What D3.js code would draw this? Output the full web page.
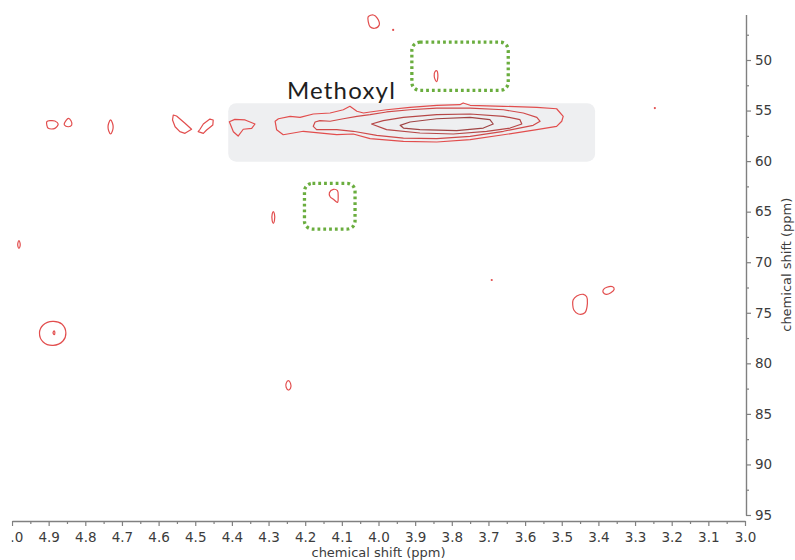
<!DOCTYPE html>
<html><head><meta charset="utf-8">
<script src="https://cdn.jsdelivr.net/npm/d3@7"></script>
<style>html,body{margin:0;padding:0;background:#fff;} svg{display:block}</style>
</head><body><svg id="c" width="795" height="560"></svg>
<script>
// ---- axes / ticks ----
const xDomain = [5.0, 3.0];
const yDomain = [45.5, 95.0];
const xTicks = [5.0,4.9,4.8,4.7,4.6,4.5,4.4,4.3,4.2,4.1,4.0,3.9,3.8,3.7,3.6,3.5,3.4,3.3,3.2,3.1,3.0];
const xMinorTicks = [4.95,4.85,4.75,4.65,4.55,4.45,4.35,4.25,4.15,4.05,3.95,3.85,3.75,3.65,3.55,3.45,3.35,3.25,3.15,3.05];
const yTicks = [50,55,60,65,70,75,80,85,90,95];
const yMinorTicks = [47.5,52.5,57.5,62.5,67.5,72.5,77.5,82.5,87.5,92.5];
const xTitle = "chemical shift (ppm)";
const yTitle = "chemical shift (ppm)";

// ---- annotations (ppm coordinates: x0, x1, y0, y1) ----
const methoxylLabel = "Methoxyl";
const methoxylLabelAt = [4.250, 53.81];
const methoxylBand = [4.410, 3.409, 54.28, 60.06];
const boxUpper = [3.909, 3.646, 48.24, 53.00];
const boxLower = [4.202, 4.064, 62.20, 66.72];

// ---- contour data (ppm 1H, ppm 13C) ----
const methoxylOuter = [[4.282,56.06],[4.273,55.81],[4.241,55.57],[4.214,55.67],[4.178,55.34],[4.132,55.24],[4.096,54.92],[4.078,54.58],[4.059,55.07],[4.041,55.24],[4.023,55.14],[3.978,54.92],[3.914,54.68],[3.841,54.48],[3.778,54.42],[3.769,54.25],[3.750,54.48],[3.659,54.58],[3.568,54.68],[3.514,54.82],[3.496,55.57],[3.500,56.06],[3.514,56.56],[3.568,56.89],[3.659,57.39],[3.750,57.88],[3.841,58.11],[3.932,58.04],[4.023,57.78],[4.069,57.32],[4.114,57.39],[4.205,57.05],[4.260,57.39],[4.278,56.89]];
const methoxylLevel2 = [[4.173,56.13],[4.160,56.00],[4.132,56.06],[4.096,55.81],[4.059,55.57],[4.023,55.41],[3.978,55.14],[3.914,54.92],[3.841,54.75],[3.750,54.75],[3.659,54.92],[3.605,55.24],[3.568,55.67],[3.559,56.06],[3.578,56.46],[3.659,57.05],[3.750,57.55],[3.841,57.78],[3.932,57.72],[4.005,57.45],[4.069,57.05],[4.114,56.89],[4.169,56.89],[4.178,56.56]];
const methoxylLevel3 = [[4.019,56.33],[3.987,56.00],[3.932,55.67],[3.841,55.41],[3.750,55.34],[3.659,55.57],[3.614,55.90],[3.609,56.33],[3.641,56.73],[3.705,57.05],[3.796,57.32],[3.887,57.22],[3.978,56.89]];
const methoxylCore = [[3.941,56.46],[3.914,56.13],[3.841,55.81],[3.750,55.67],[3.696,55.90],[3.687,56.33],[3.714,56.73],[3.787,56.99],[3.887,56.89],[3.932,56.73]];
const methoxylShoulder = [[4.407,56.10],[4.392,55.87],[4.364,55.93],[4.337,56.33],[4.346,56.76],[4.369,56.85],[4.383,57.52],[4.396,57.09]];

const peak490a = [[4.905,56.10],[4.896,56.00],[4.883,56.03],[4.874,56.33],[4.883,56.76],[4.901,56.76],[4.905,56.43]];
const peak485 = [[4.857,56.26],[4.846,55.77],[4.839,56.00],[4.837,56.43],[4.846,56.60],[4.857,56.43]];
const peak473 = [[4.731,55.93],[4.726,56.23],[4.724,56.63],[4.726,57.02],[4.731,57.32],[4.736,57.02],[4.738,56.63],[4.736,56.23]];
const peak454 = [[4.560,55.44],[4.551,55.54],[4.528,56.26],[4.510,56.85],[4.528,57.25],[4.542,57.09],[4.555,56.60],[4.562,55.93]];
const peak447 = [[4.487,56.85],[4.478,56.33],[4.460,55.84],[4.451,55.93],[4.452,56.43],[4.469,56.92],[4.478,57.25],[4.492,57.09]];
const peak401 = [[4.028,45.72],[4.014,45.55],[4.003,45.88],[3.998,46.54],[4.010,46.86],[4.023,46.71],[4.028,46.21]];
const peak384 = [[3.846,51.16],[3.841,51.06],[3.838,51.48],[3.841,52.15],[3.845,51.98],[3.848,51.58]];
const peak429 = [[4.287,65.00],[4.284,65.23],[4.284,65.92],[4.287,66.15],[4.290,65.92],[4.290,65.23]];
const peak412 = [[4.134,63.13],[4.123,62.79],[4.112,62.93],[4.110,63.52],[4.112,64.08],[4.123,63.78],[4.132,63.52]];
const peak498 = [[4.981,67.87],[4.978,68.10],[4.978,68.40],[4.981,68.63],[4.984,68.40],[4.984,68.10]];
const peak489 = [[4.889,75.85],[4.864,76.11],[4.853,77.00],[4.861,77.79],[4.888,78.22],[4.915,77.89],[4.925,77.00],[4.915,76.21]];
const peak489core = [[4.885,76.78],[4.883,76.97],[4.885,77.17],[4.888,76.97]];
const peak345 = [[3.469,73.74],[3.459,73.34],[3.441,73.18],[3.432,73.41],[3.430,74.07],[3.437,75.00],[3.455,75.12],[3.467,74.73],[3.470,74.23]];
const peak337 = [[3.387,72.75],[3.377,72.48],[3.361,72.42],[3.357,72.68],[3.366,73.02],[3.379,73.18],[3.387,72.98]];
const peak425 = [[4.252,81.98],[4.246,81.72],[4.240,81.98],[4.240,82.47],[4.246,82.64],[4.252,82.37]];
const pointPeaks = [[3.960,47.03],[3.691,71.76],[3.246,54.75]];

const contours = [
  {pts: methoxylOuter, level: 1, smooth: false},
  {pts: methoxylLevel2, level: 2, smooth: false},
  {pts: methoxylLevel3, level: 3, smooth: false},
  {pts: methoxylCore, level: 4, smooth: false},
  {pts: methoxylShoulder, level: 1, smooth: false},
  {pts: peak490a, level: 1, smooth: true},
  {pts: peak485, level: 1, smooth: true},
  {pts: peak473, level: 1, smooth: true},
  {pts: peak454, level: 1, smooth: false},
  {pts: peak447, level: 1, smooth: false},
  {pts: peak401, level: 1, smooth: true},
  {pts: peak384, level: 1, smooth: true},
  {pts: peak429, level: 1, smooth: true},
  {pts: peak412, level: 1, smooth: true},
  {pts: peak498, level: 1, smooth: true},
  {pts: peak489, level: 1, smooth: true},
  {pts: peak489core, level: 1, smooth: true},
  {pts: peak345, level: 1, smooth: true},
  {pts: peak337, level: 1, smooth: true},
  {pts: peak425, level: 1, smooth: true}
];
const levelColors = ["#e24d4d", "#d04a4a", "#b64747", "#a04444"];

// ---- drawing ----
const svg = d3.select("#c");
const x = d3.scaleLinear().domain(xDomain).range([12, 745]);
const y = d3.scaleLinear().domain(yDomain).range([14.5, 515]);

// methoxyl band
svg.append("rect")
  .attr("x", x(methoxylBand[0])).attr("y", y(methoxylBand[2]))
  .attr("width", x(methoxylBand[1]) - x(methoxylBand[0]))
  .attr("height", y(methoxylBand[3]) - y(methoxylBand[2]))
  .attr("rx", 8).attr("fill", "#eeeff1");

// dotted boxes
[boxUpper, boxLower].forEach(b => {
  svg.append("rect")
    .attr("x", x(b[0])).attr("y", y(b[2]))
    .attr("width", x(b[1]) - x(b[0]))
    .attr("height", y(b[3]) - y(b[2]))
    .attr("rx", 8).attr("fill", "none")
    .attr("stroke", "#6aad3e").attr("stroke-width", 3.3)
    .attr("stroke-dasharray", "2.8 3");
});

svg.append("text")
  .attr("x", x(methoxylLabelAt[0])).attr("y", y(methoxylLabelAt[1]))
  .attr("font-family", "Lato, 'Open Sans', sans-serif")
  .attr("font-size", 24).attr("letter-spacing", 1.2)
  .attr("fill", "#1e1e1e").text(methoxylLabel);

const lineSharp = d3.line().x(d => x(d[0])).y(d => y(d[1])).curve(d3.curveLinearClosed);
const lineSmooth = d3.line().x(d => x(d[0])).y(d => y(d[1])).curve(d3.curveCatmullRomClosed.alpha(0.5));

svg.append("g").selectAll("path").data(contours).join("path")
  .attr("d", d => (d.smooth ? lineSmooth : lineSharp)(d.pts))
  .attr("fill", "none")
  .attr("stroke", d => levelColors[d.level - 1])
  .attr("stroke-width", 1.2)
  .attr("stroke-linejoin", "round");

svg.append("g").selectAll("circle").data(pointPeaks).join("circle")
  .attr("cx", d => x(d[0])).attr("cy", d => y(d[1])).attr("r", 1.1)
  .attr("fill", "#e24d4d");

// axes
const axisColor = "#808080", textColor = "#3c3c3c";
const fontFam = "'DejaVu Sans', Verdana, sans-serif";

// clip the left edge of the x axis (local coordinates of the axis group)
svg.append("defs").append("clipPath").attr("id", "xclip")
  .append("rect").attr("x", 11.5).attr("y", -10).attr("width", 790).attr("height", 40);

const gx = svg.append("g").attr("transform", "translate(0,521)").attr("clip-path", "url(#xclip)");
gx.call(d3.axisBottom(x).tickValues(xTicks).tickFormat(d3.format(".1f")).tickSize(5).tickSizeOuter(0).tickPadding(6));
gx.append("g").call(d3.axisBottom(x).tickValues(xMinorTicks).tickFormat("").tickSize(3).tickSizeOuter(0))
  .select(".domain").remove();

const gy = svg.append("g").attr("transform", "translate(746,0)");
gy.call(d3.axisRight(y).tickValues(yTicks).tickSize(5).tickSizeOuter(0).tickPadding(4));
gy.append("g").call(d3.axisRight(y).tickValues(yMinorTicks).tickFormat("").tickSize(3).tickSizeOuter(0))
  .select(".domain").remove();

svg.selectAll(".domain").attr("stroke", axisColor).attr("stroke-width", 1.4);
svg.selectAll(".tick line").attr("stroke", axisColor).attr("stroke-width", 1.2);
svg.selectAll(".tick text").attr("fill", textColor).attr("font-size", 13.5).attr("font-family", fontFam);

svg.append("text").attr("x", (x.range()[0] + x.range()[1]) / 2).attr("y", 557)
  .attr("text-anchor", "middle").attr("font-family", fontFam).attr("font-size", 13)
  .attr("fill", textColor).text(xTitle);

svg.append("text").attr("transform", `translate(791,${(y.range()[0] + y.range()[1]) / 2}) rotate(-90)`)
  .attr("text-anchor", "middle").attr("font-family", fontFam).attr("font-size", 13)
  .attr("fill", textColor).text(yTitle);
</script></body></html>
